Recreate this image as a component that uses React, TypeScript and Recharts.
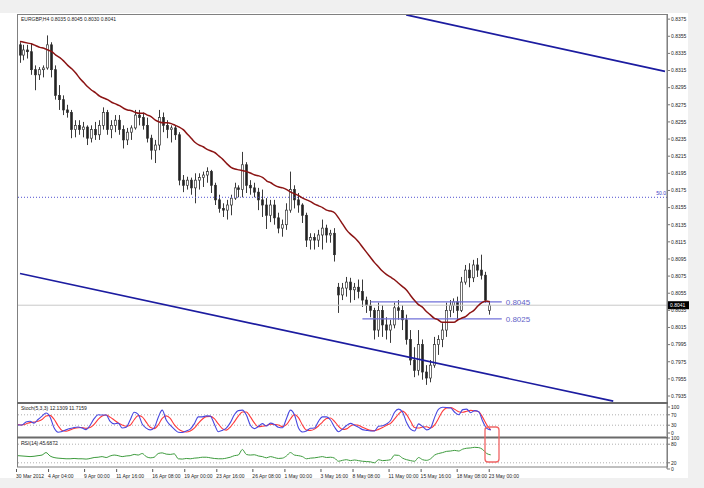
import React from 'react';
import { ComposedChart, Bar, Line, XAxis, YAxis, ReferenceLine } from 'recharts';

// EURGBP H4 candles (oldest first)
const opens = [
  0.8345, 0.8333, 0.8339, 0.8337, 0.8316, 0.8310, 0.8316, 0.8318, 0.8345, 0.8316,
  0.8286, 0.8281, 0.8269, 0.8266, 0.8246, 0.8251, 0.8246, 0.8249, 0.8236, 0.8246,
  0.8240, 0.8251, 0.8266, 0.8246, 0.8251, 0.8257, 0.8246, 0.8234, 0.8243, 0.8248,
  0.8263, 0.8260, 0.8251, 0.8236, 0.8222, 0.8228, 0.8260, 0.8251, 0.8246, 0.8248,
  0.8240, 0.8187, 0.8181, 0.8187, 0.8178, 0.8187, 0.8190, 0.8193, 0.8197, 0.8181,
  0.8164, 0.8154, 0.8152, 0.8158, 0.8166, 0.8178, 0.8176, 0.8205, 0.8181, 0.8178,
  0.8173, 0.8164, 0.8158, 0.8146, 0.8158, 0.8143, 0.8131, 0.8135, 0.8152, 0.8176,
  0.8164, 0.8158, 0.8146, 0.8117, 0.8120, 0.8117, 0.8123, 0.8131, 0.8123, 0.8125,
  0.8062, 0.8053, 0.8061, 0.8068, 0.8059, 0.8062, 0.8057, 0.8047, 0.8041, 0.8035,
  0.8012, 0.8035, 0.8018, 0.8012, 0.8018, 0.8038, 0.8035, 0.8024, 0.8001, 0.7977,
  0.7965, 0.7995, 0.7963, 0.7956, 0.7971, 0.7995, 0.8001, 0.8012, 0.8035, 0.8041,
  0.8045, 0.8035, 0.8068, 0.8082, 0.8073, 0.8088, 0.8082, 0.8076, 0.8035,
];
const highs = [
  0.8348, 0.8345, 0.8345, 0.8347, 0.8321, 0.8319, 0.8321, 0.8356, 0.8348, 0.8321,
  0.8298, 0.8286, 0.8275, 0.8269, 0.8257, 0.8257, 0.8255, 0.8251, 0.8251, 0.8255,
  0.8257, 0.8272, 0.8269, 0.8257, 0.8263, 0.8263, 0.8251, 0.8248, 0.8251, 0.8269,
  0.8269, 0.8266, 0.8260, 0.8240, 0.8234, 0.8269, 0.8266, 0.8257, 0.8251, 0.8251,
  0.8243, 0.8193, 0.8191, 0.8190, 0.8195, 0.8195, 0.8197, 0.8202, 0.8199, 0.8184,
  0.8170, 0.8160, 0.8164, 0.8170, 0.8184, 0.8181, 0.8220, 0.8208, 0.8187, 0.8184,
  0.8178, 0.8176, 0.8166, 0.8164, 0.8164, 0.8149, 0.8141, 0.8160, 0.8197, 0.8181,
  0.8172, 0.8160, 0.8149, 0.8125, 0.8125, 0.8129, 0.8141, 0.8135, 0.8129, 0.8131,
  0.8067, 0.8067, 0.8074, 0.8073, 0.8067, 0.8071, 0.8071, 0.8051, 0.8047, 0.8038,
  0.8044, 0.8041, 0.8027, 0.8024, 0.8044, 0.8047, 0.8041, 0.8030, 0.8012, 0.7992,
  0.8012, 0.8001, 0.7971, 0.7977, 0.8004, 0.8006, 0.8020, 0.8044, 0.8047, 0.8049,
  0.8051, 0.8074, 0.8088, 0.8090, 0.8094, 0.8096, 0.8100, 0.8080, 0.8045,
];
const lows = [
  0.8324, 0.8327, 0.8329, 0.8310, 0.8292, 0.8304, 0.8307, 0.8316, 0.8307, 0.8281,
  0.8269, 0.8263, 0.8260, 0.8236, 0.8237, 0.8240, 0.8237, 0.8228, 0.8231, 0.8234,
  0.8234, 0.8246, 0.8240, 0.8236, 0.8243, 0.8240, 0.8224, 0.8228, 0.8234, 0.8246,
  0.8251, 0.8246, 0.8231, 0.8211, 0.8207, 0.8222, 0.8243, 0.8236, 0.8231, 0.8234,
  0.8181, 0.8173, 0.8176, 0.8170, 0.8160, 0.8176, 0.8179, 0.8184, 0.8172, 0.8158,
  0.8149, 0.8144, 0.8141, 0.8146, 0.8164, 0.8167, 0.8167, 0.8172, 0.8170, 0.8167,
  0.8152, 0.8144, 0.8130, 0.8138, 0.8135, 0.8125, 0.8121, 0.8129, 0.8149, 0.8154,
  0.8149, 0.8137, 0.8109, 0.8106, 0.8106, 0.8109, 0.8106, 0.8114, 0.8114, 0.8092,
  0.8032, 0.8047, 0.8051, 0.8044, 0.8047, 0.8049, 0.8039, 0.8032, 0.8027, 0.8001,
  0.8004, 0.8004, 0.8001, 0.7997, 0.8014, 0.8024, 0.8012, 0.7995, 0.7971, 0.7957,
  0.7959, 0.7954, 0.7948, 0.7951, 0.7968, 0.7983, 0.7992, 0.8004, 0.8027, 0.8032,
  0.8024, 0.8033, 0.8065, 0.8062, 0.8068, 0.8074, 0.8071, 0.8044, 0.8030,
];
const closes = [
  0.8333, 0.8339, 0.8337, 0.8316, 0.8310, 0.8316, 0.8318, 0.8345, 0.8316, 0.8286,
  0.8281, 0.8269, 0.8266, 0.8246, 0.8251, 0.8246, 0.8249, 0.8236, 0.8246, 0.8240,
  0.8251, 0.8266, 0.8246, 0.8251, 0.8257, 0.8246, 0.8234, 0.8243, 0.8248, 0.8263,
  0.8260, 0.8251, 0.8236, 0.8222, 0.8228, 0.8260, 0.8251, 0.8246, 0.8248, 0.8240,
  0.8187, 0.8181, 0.8187, 0.8178, 0.8187, 0.8190, 0.8193, 0.8197, 0.8181, 0.8164,
  0.8154, 0.8152, 0.8158, 0.8166, 0.8178, 0.8176, 0.8205, 0.8181, 0.8178, 0.8173,
  0.8164, 0.8158, 0.8146, 0.8158, 0.8143, 0.8131, 0.8135, 0.8152, 0.8176, 0.8164,
  0.8158, 0.8146, 0.8117, 0.8120, 0.8117, 0.8123, 0.8131, 0.8123, 0.8125, 0.8100,
  0.8053, 0.8061, 0.8068, 0.8059, 0.8062, 0.8057, 0.8047, 0.8041, 0.8035, 0.8012,
  0.8035, 0.8018, 0.8012, 0.8018, 0.8038, 0.8035, 0.8024, 0.8001, 0.7977, 0.7965,
  0.7995, 0.7963, 0.7956, 0.7971, 0.7995, 0.8001, 0.8012, 0.8035, 0.8041, 0.8045,
  0.8035, 0.8068, 0.8082, 0.8073, 0.8088, 0.8082, 0.8076, 0.8047, 0.8041,
];
// moving average (dark red)
const maVals = [
  0.8349, 0.8348, 0.8347, 0.8346, 0.8344, 0.8342, 0.8341, 0.8339, 0.8337, 0.8333,
  0.8330, 0.8326, 0.8321, 0.8317, 0.8312, 0.8306, 0.8301, 0.8296, 0.8292, 0.8289,
  0.8285, 0.8283, 0.8281, 0.8278, 0.8276, 0.8274, 0.8271, 0.8269, 0.8268, 0.8266,
  0.8265, 0.8265, 0.8263, 0.8261, 0.8257, 0.8255, 0.8254, 0.8254, 0.8253, 0.8251,
  0.8249, 0.8246, 0.8241, 0.8236, 0.8231, 0.8228, 0.8226, 0.8223, 0.8221, 0.8219,
  0.8215, 0.8211, 0.8206, 0.8202, 0.8200, 0.8199, 0.8198, 0.8197, 0.8195, 0.8193,
  0.8192, 0.8190, 0.8186, 0.8184, 0.8181, 0.8179, 0.8178, 0.8176, 0.8173, 0.8171,
  0.8169, 0.8166, 0.8164, 0.8162, 0.8159, 0.8157, 0.8155, 0.8152, 0.8151, 0.8149,
  0.8143, 0.8136, 0.8129, 0.8124, 0.8120, 0.8115, 0.8109, 0.8103, 0.8097, 0.8091,
  0.8086, 0.8081, 0.8077, 0.8074, 0.8071, 0.8067, 0.8063, 0.8059, 0.8053, 0.8047,
  0.8042, 0.8039, 0.8034, 0.8030, 0.8026, 0.8024, 0.8021, 0.8021, 0.8021, 0.8021,
  0.8024, 0.8026, 0.8028, 0.8032, 0.8035, 0.8040, 0.8044, 0.8046, 0.8045,
];
// Stoch(5,3,3) main and signal
const stochK = [
  31, 31, 42, 45, 38, 52, 65, 77, 62, 20,
  3, 6, 12, 17, 21, 23, 19, 13, 30, 55,
  70, 69, 69, 45, 35, 38, 19, 22, 50, 80,
  72, 35, 19, 12, 20, 60, 88, 50, 30, 15,
  3, 2, 8, 15, 35, 62, 62, 66, 65, 35,
  5, 10, 19, 40, 70, 86, 88, 69, 30, 17,
  25, 36, 27, 38, 33, 22, 20, 55, 88, 70,
  20, 4, 8, 18, 19, 45, 62, 62, 50, 23,
  5, 15, 29, 37, 30, 22, 13, 10, 8, 8,
  26, 28, 35, 48, 80, 92, 80, 40, 15, 8,
  35, 25, 12, 20, 60, 92, 99, 98, 96, 80,
  70, 90, 92, 78, 86, 82, 45, 18, 12.13,
];
const stochD = [
  33, 31, 35, 40, 42, 45, 52, 65, 68, 53,
  28, 10, 7, 12, 17, 20, 21, 18, 21, 33,
  52, 65, 69, 61, 50, 39, 31, 26, 30, 51,
  67, 62, 42, 22, 17, 31, 56, 66, 56, 32,
  16, 7, 4, 8, 19, 37, 53, 63, 64, 55,
  35, 17, 11, 23, 43, 65, 81, 81, 62, 39,
  24, 26, 29, 34, 33, 31, 25, 32, 54, 71,
  59, 31, 11, 10, 15, 27, 42, 56, 58, 45,
  26, 14, 16, 27, 32, 30, 22, 15, 10, 9,
  14, 21, 30, 37, 54, 73, 84, 71, 45, 21,
  19, 23, 24, 19, 31, 57, 84, 96, 98, 91,
  82, 80, 84, 87, 85, 82, 60, 32, 11.72,
];
// RSI(14)
const rsiVals = [
  43, 42, 41, 40, 41, 43, 45, 53, 42, 37,
  35, 34, 33, 33, 34, 33, 33, 32, 34, 37,
  38, 40, 37, 42, 45, 43, 40, 42, 43, 47,
  45, 50, 40, 36, 38, 50, 52, 48, 47, 49,
  33, 32, 34, 33, 35, 36, 38, 38, 36, 34,
  33, 33, 35, 38, 43, 45, 63, 47, 45, 46,
  42, 40, 36, 40, 37, 34, 35, 42, 53, 45,
  43, 40, 33, 35, 36, 38, 40, 37, 38, 35,
  25, 28, 30, 27, 29, 27, 25, 24, 23, 20,
  30, 27, 28, 30, 45, 44, 35, 30, 27, 25,
  37, 30, 28, 33, 45, 50, 53, 57, 58, 60,
  58, 64, 67, 68, 70, 69, 63, 50, 45.69,
];

const timeTickIdx = [0, 8, 17, 25, 34, 42, 50, 59, 67, 76, 84, 93, 101, 110, 118];
const timeTickLabels = [
  '30 Mar 2012', '4 Apr 04:00', '9 Apr 00:00', '11 Apr 16:00', '16 Apr 08:00',
  '19 Apr 00:00', '23 Apr 16:00', '26 Apr 08:00', '1 May 00:00', '3 May 16:00',
  '8 May 08:00', '11 May 00:00', '15 May 16:00', '18 May 08:00', '23 May 00:00',
];
const priceTicks = [
  0.8375, 0.8355, 0.8335, 0.8315, 0.8295, 0.8275, 0.8255, 0.8235, 0.8215, 0.8195,
  0.8175, 0.8155, 0.8135, 0.8115, 0.8095, 0.8075, 0.8055, 0.8035, 0.8015, 0.7995,
  0.7975, 0.7955, 0.7935,
];
const stochTicks = [0, 30, 70, 100];
const rsiTicks = [0, 20, 80, 100];

// drawn objects
const upperChannel = [{ x: 97, y: 0.8380 }, { x: 162, y: 0.8314 }];
const lowerChannel = [{ x: 0, y: 0.8078 }, { x: 149, y: 0.7929 }];
const fibLevel = 0.8167;
const lastPrice = 0.8041;
const levelHigh = { from: 88, to: 121, price: 0.8045 };
const levelLow = { from: 86, to: 121, price: 0.8025 };

const SLOTS = 163; // bars + empty shift area on the right

const rows = Array.from({ length: SLOTS }, (_, i) =>
  i < closes.length
    ? {
        i,
        hl: [lows[i], highs[i]],
        o: opens[i],
        h: highs[i],
        l: lows[i],
        c: closes[i],
        ma: maVals[i],
        k: stochK[i],
        d: stochD[i],
        rsi: rsiVals[i],
      }
    : { i }
);

const FONT = '"Liberation Sans", Arial, sans-serif';
const TXT = '#222';

const Candle = (props: any) => {
  const { x, y, width, height } = props;
  const p = props.payload || props;
  if (p == null || p.o == null) return null;
  const top = Math.min(y, y + height);
  const h = Math.abs(height);
  const span = p.h - p.l || 1e-9;
  const py = (v: number) => top + ((p.h - v) / span) * h;
  const cx = Math.round(x + width / 2) + 0.5;
  const yo = py(p.o);
  const yc = py(p.c);
  const bull = p.c >= p.o;
  const bt = Math.min(yo, yc);
  const bh = Math.max(Math.abs(yc - yo), 1);
  return (
    <g>
      <line x1={cx} x2={cx} y1={top} y2={top + h} stroke="#3a3a3a" strokeWidth={1} />
      <rect
        x={cx - 1}
        y={bt}
        width={2}
        height={bh}
        fill={bull ? '#fff' : '#222'}
        stroke="#333"
        strokeWidth={0.7}
      />
    </g>
  );
};

const PriceTick = ({ x, y, payload }: any) => (
  <text x={x} y={y} dy={1.8} fontSize={5} fill={TXT} fontFamily={FONT}>
    {payload.value.toFixed(4)}
  </text>
);

// lo / hi are in the panel chart's own coordinates
const panelTick = (lo: number, hi: number) => ({ x, y, payload }: any) => (
  <text x={x} y={Math.min(hi, Math.max(lo, y))} dy={1.8} fontSize={5} fill={TXT} fontFamily={FONT}>
    {payload.value}
  </text>
);

const TimeTick = ({ x, y, payload }: any) => {
  const k = timeTickIdx.indexOf(payload.value);
  if (k < 0) return null;
  return (
    <g>
      <line x1={x - 1.5} x2={x - 1.5} y1={y} y2={y + 3} stroke="#555" />
      <text x={x - 2} y={y + 8.5} fontSize={5} fill={TXT} fontFamily={FONT}>
        {timeTickLabels[k]}
      </text>
    </g>
  );
};

const PriceBox = (props: any) => {
  const vb = props.viewBox || {};
  const x = vb.x + vb.width;
  return (
    <g>
      <rect x={x + 1} y={vb.y - 4} width={21} height={8} fill="#000" />
      <text x={x + 3} y={vb.y} dy={1.8} fontSize={5} fill="#fff" fontFamily={FONT}>
        {lastPrice.toFixed(4)}
      </text>
    </g>
  );
};

const levelLabel = (text: string) => (props: any) => {
  const vb = props.viewBox || {};
  return (
    <text x={vb.x + vb.width + 4} y={vb.y} dy={2.8} fontSize={8} fill="#6464c8" fontFamily={FONT}>
      {text}
    </text>
  );
};

const FibLabel = (props: any) => {
  const vb = props.viewBox || {};
  return (
    <text x={vb.x + vb.width - 1} y={vb.y - 2} textAnchor="end" fontSize={5} fill="#3c3cc8" fontFamily={FONT}>
      50.0
    </text>
  );
};

const yAxisCommon = {
  orientation: 'right' as const,
  width: 28,
  tickSize: 3,
  tickMargin: 1,
  interval: 0,
  axisLine: { stroke: '#777' },
  tickLine: { stroke: '#777' },
  allowDataOverflow: true,
};

export default function App() {
  return (
    <div
      style={{
        position: 'absolute',
        left: 0,
        top: 0,
        width: 704,
        height: 488,
        background: '#f0f0f0',
        overflow: 'hidden',
      }}
    >
      <div style={{ position: 'absolute', left: 0, top: 13, width: 688, height: 465, background: '#fff' }} />

      {/* price panel */}
      <div style={{ position: 'absolute', left: 0, top: 0 }}>
        <ComposedChart width={704} height={402} data={rows} margin={{ top: 14, right: 9, bottom: 0, left: 18 }}>
          <XAxis dataKey="i" hide />
          <YAxis {...yAxisCommon} domain={[0.7928, 0.8381]} ticks={priceTicks} tick={<PriceTick />} />
          <ReferenceLine y={fibLevel} stroke="#5050d0" strokeDasharray="1 2" label={<FibLabel />} />
          <ReferenceLine y={lastPrice} stroke="#c8c8c8" label={<PriceBox />} />
          <ReferenceLine
            segment={[{ x: levelHigh.from, y: levelHigh.price }, { x: levelHigh.to, y: levelHigh.price }]}
            stroke="#7070d8"
            strokeWidth={1.2}
            label={levelLabel(levelHigh.price.toFixed(4))}
          />
          <ReferenceLine
            segment={[{ x: levelLow.from, y: levelLow.price }, { x: levelLow.to, y: levelLow.price }]}
            stroke="#7070d8"
            strokeWidth={1.2}
            label={levelLabel(levelLow.price.toFixed(4))}
          />
          <Bar dataKey="hl" barSize={3} shape={<Candle />} isAnimationActive={false} />
          <Line
            dataKey="ma"
            type="monotone"
            stroke="#8b1414"
            strokeWidth={1.5}
            dot={false}
            activeDot={false}
            isAnimationActive={false}
          />
          <ReferenceLine segment={upperChannel} stroke="#1c1ca0" strokeWidth={1.7} ifOverflow="visible" />
          <ReferenceLine segment={lowerChannel} stroke="#1c1ca0" strokeWidth={1.7} ifOverflow="visible" />
        </ComposedChart>
      </div>

      {/* stochastic panel */}
      <div style={{ position: 'absolute', left: 0, top: 396 }}>
        <ComposedChart width={704} height={41} data={rows} margin={{ top: 7, right: 9, bottom: 1, left: 18 }}>
          <XAxis dataKey="i" hide />
          <YAxis {...yAxisCommon} domain={[-11.5, 115.4]} ticks={stochTicks} tick={panelTick(11, 37)} />
          <ReferenceLine y={70} stroke="#b0b0b0" strokeDasharray="1 2" />
          <ReferenceLine y={30} stroke="#b0b0b0" strokeDasharray="1 2" />
          <Line dataKey="d" type="monotone" stroke="#ff3a3a" strokeWidth={1.1} dot={false} activeDot={false} isAnimationActive={false} />
          <Line dataKey="k" type="monotone" stroke="#4848e0" strokeWidth={1.1} dot={false} activeDot={false} isAnimationActive={false} />
        </ComposedChart>
      </div>

      {/* RSI panel */}
      <div style={{ position: 'absolute', left: 0, top: 430 }}>
        <ComposedChart width={704} height={53} data={rows} margin={{ top: 8, right: 9, bottom: 2, left: 18 }}>
          <XAxis
            dataKey="i"
            height={12}
            interval={0}
            tickLine={false}
            axisLine={false}
            tickSize={0}
            tickMargin={0}
            tick={<TimeTick />}
          />
          <YAxis {...yAxisCommon} domain={[0, 100]} ticks={rsiTicks} tick={panelTick(7.5, 39)} />
          <ReferenceLine y={80} stroke="#b0b0b0" strokeDasharray="1 2" />
          <ReferenceLine y={20} stroke="#b0b0b0" strokeDasharray="1 2" />
          <Line dataKey="rsi" type="monotone" stroke="#3c9a3c" strokeWidth={1} dot={false} activeDot={false} isAnimationActive={false} />
        </ComposedChart>
      </div>

      {/* window frame, panel titles, drawn box */}
      <svg width={704} height={488} style={{ position: 'absolute', left: 0, top: 0, pointerEvents: 'none' }}>
        <rect x={17.5} y={14.5} width={650} height={452.5} fill="none" stroke="#808080" />
        <line x1={17} x2={668} y1={403} y2={403} stroke="#6a6a6a" strokeWidth={2} />
        <line x1={17} x2={668} y1={437.5} y2={437.5} stroke="#6a6a6a" strokeWidth={2} />
        <text x={21} y={19} dy={1.8} fontSize={5} fill={TXT} fontFamily={FONT}>
          EURGBP,H4 0.8035 0.8045 0.8030 0.8041
        </text>
        <text x={21} y={408} dy={1.8} fontSize={5} fill={TXT} fontFamily={FONT}>
          Stoch(5,3,3) 12.1309 11.7159
        </text>
        <text x={21} y={443} dy={1.8} fontSize={5} fill={TXT} fontFamily={FONT}>
          RSI(14) 45.6872
        </text>
        <rect x={485} y={427} width={14} height={35} rx={3} fill="none" stroke="#f06464" strokeWidth={1.3} />
      </svg>
    </div>
  );
}
